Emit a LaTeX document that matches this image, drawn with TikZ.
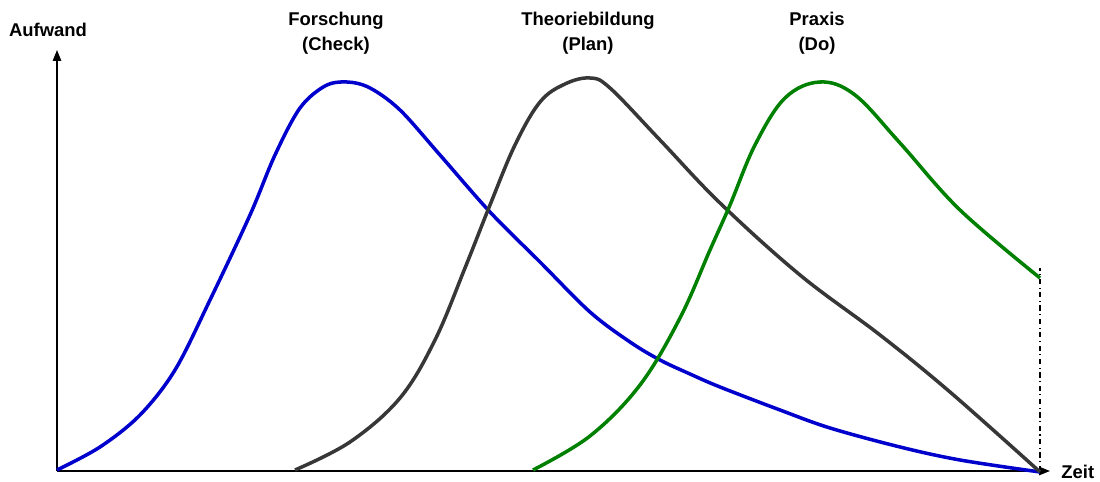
\documentclass[tikz,border=0pt]{standalone}
\usepackage{fontspec}
\setmainfont{Liberation Sans}
\usepackage{tikz}
\usetikzlibrary{arrows.meta,positioning,calc}
\definecolor{fblue}{RGB}{0,0,205}
\definecolor{tgray}{RGB}{55,55,55}
\definecolor{pgreen}{RGB}{0,128,0}
\tikzset{
  lbl/.style={align=center,inner sep=0pt,font=\bfseries\fontsize{10.5}{14}\selectfont},
  ax/.style={-{Triangle[length=2.2mm,width=1.7mm]},line width=0.8pt},
  fcurve/.style={fblue,line width=2pt},
  tcurve/.style={tgray,line width=2pt},
  pcurve/.style={pgreen,line width=2pt}
}
\begin{document}
\begin{tikzpicture}[x=0.02cm,y=-0.02cm]
\useasboundingbox (0,0) rectangle (1100,482);
\coordinate (O)  at (57,471);
\coordinate (Yt) at (57,50);
\coordinate (Xe) at (1050,471);
\coordinate (Ve) at (1040,268);
\coordinate (Vb) at (1040,471);
\node[lbl] (auf)  at (48,30)   {Aufwand};
\node[lbl,anchor=west] (zeit) at (1061,472) {Zeit};
\node[lbl] (fo) at (336,33) {Forschung\\(Check)};
\node[lbl] (th) at (588,33) {Theoriebildung\\(Plan)};
\node[lbl] (pr) at (817,33) {Praxis\\(Do)};
\draw[ax] (O) -- (Yt);
\draw[ax] (O) -- (Xe);
\draw[line width=0.6pt,dash dot] (Vb) -- (Ve);
% Forschung
\draw[fcurve] plot[smooth,tension=0.55] coordinates {(57,470) (100,447) (140,415) (175,370) (210,300)
  (250,215) (275,155) (300,108) (325,86) (347,82) (370,88) (400,110) (440,155) (490,212)
  (540,262) (590,312) (630,342) (660,360) (690,374) (720,387) (780,410) (830,428)
  (900,447) (960,460) (1040,472)};
% Theoriebildung
\draw[tcurve] plot[smooth,tension=0.6] coordinates {(295,470) (350,442) (400,398) (435,340)
  (465,268) (490,205) (515,145) (540,102) (565,84) (590,78) (610,88) (660,140) (720,203)
  (800,275) (880,335) (950,392) (1040,472)};
% Praxis
\draw[pcurve] plot[smooth,tension=0.6] coordinates {(533,470) (590,436) (640,385) (680,318)
  (710,250) (730,205) (755,145) (785,98) (820,82) (855,95) (900,143) (960,210) (1040,278)};
\end{tikzpicture}
\end{document}
